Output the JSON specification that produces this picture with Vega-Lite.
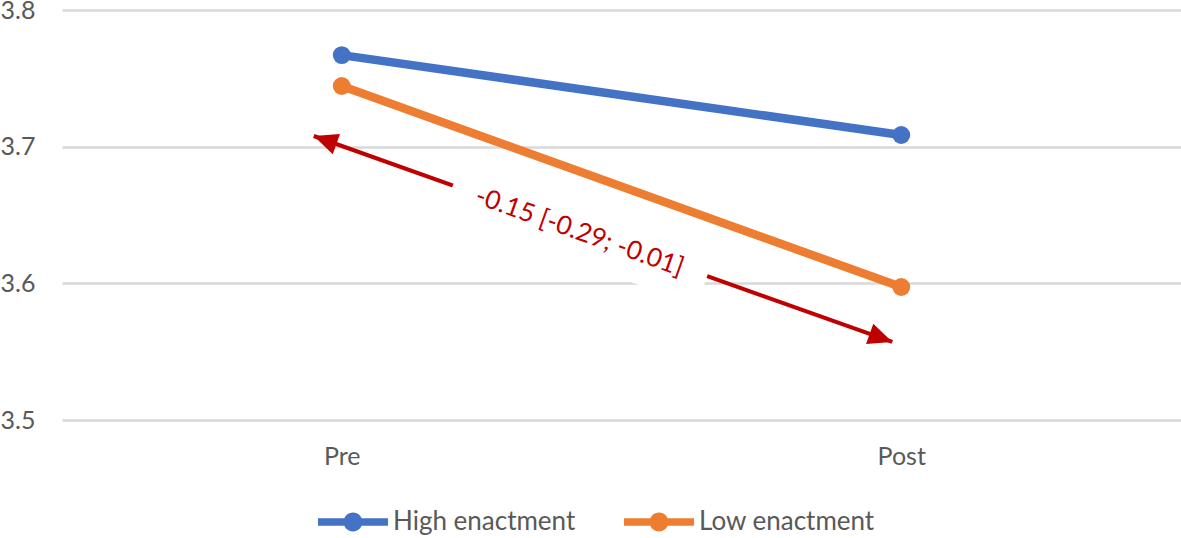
{
  "$schema": "https://vega.github.io/schema/vega-lite/v6.json",
  "autosize": {"type": "none"},
  "padding": {"left": 62, "top": 10, "right": 0, "bottom": 118},
  "width": 1119,
  "height": 410,
  "background": "white",
  "config": {
    "view": {"stroke": null},
    "font": "Lato",
    "axis": {"labelFont": "Lato", "labelColor": "#595959", "labelFontSize": 25, "domain": false, "ticks": false, "title": null},
    "legend": {"labelFont": "Lato", "labelColor": "#595959", "labelFontSize": 26, "labelLimit": 0}
  },
  "resolve": {"scale": {"x": "independent"}},
  "layer": [
    {
      "layer": [
        {
          "data": {"values": [{"x": 0.45, "y": 3.7078, "x2": 1.484, "y2": 3.5571}]},
          "mark": {"type": "rule", "color": "#C00000", "strokeWidth": 4},
          "encoding": {
            "x": {"field": "x", "type": "quantitative", "scale": {"domain": [0, 2], "nice": false, "zero": false}, "axis": null},
            "y": {"field": "y", "type": "quantitative", "scale": {"domain": [3.5, 3.8], "nice": false, "zero": false}, "axis": {"values": [3.5, 3.6, 3.7, 3.8], "format": ".1f", "labelPadding": 27, "grid": true, "gridColor": "#D9D9D9", "gridWidth": 2.5}},
            "x2": {"field": "x2"},
            "y2": {"field": "y2"}
          }
        },
        {
          "data": {"values": [{"x": 0.45, "y": 3.7078}]},
          "mark": {"type": "point", "shape": "M0,0L-2,-0.9L-2,0.9Z", "size": 576, "angle": 199.6, "filled": true, "color": "#C00000", "opacity": 1, "strokeWidth": 0},
          "encoding": {
            "x": {"field": "x", "type": "quantitative"},
            "y": {"field": "y", "type": "quantitative"}
          }
        },
        {
          "data": {"values": [{"x": 1.484, "y": 3.5571}]},
          "mark": {"type": "point", "shape": "M0,0L-2,-0.9L-2,0.9Z", "size": 576, "angle": 19.6, "filled": true, "color": "#C00000", "opacity": 1, "strokeWidth": 0},
          "encoding": {
            "x": {"field": "x", "type": "quantitative"},
            "y": {"field": "y", "type": "quantitative"}
          }
        },
        {
          "data": {"values": [{"x": 0.925, "y": 3.6376, "label": "-0.15 [-0.29; -0.01]"}]},
          "layer": [
            {
              "mark": {"type": "point", "shape": "M-1,-0.222L1,-0.222L1,0.222L-1,0.222Z", "size": 72900, "angle": 19.6, "filled": true, "color": "white", "opacity": 1, "strokeWidth": 0},
              "encoding": {
                "x": {"field": "x", "type": "quantitative"},
                "y": {"field": "y", "type": "quantitative"}
              }
            },
            {
              "mark": {"type": "text", "angle": 19.6, "fontSize": 26, "font": "Lato", "color": "#C00000", "align": "center", "baseline": "middle"},
              "encoding": {
                "x": {"field": "x", "type": "quantitative"},
                "y": {"field": "y", "type": "quantitative"},
                "text": {"field": "label"}
              }
            }
          ]
        }
      ]
    },
    {
      "data": {"values": [
        {"time": "Pre", "group": "High enactment", "value": 3.767},
        {"time": "Post", "group": "High enactment", "value": 3.7085},
        {"time": "Pre", "group": "Low enactment", "value": 3.7444},
        {"time": "Post", "group": "Low enactment", "value": 3.5973}
      ]},
      "encoding": {
        "x": {"field": "time", "type": "nominal", "scale": {"type": "point", "padding": 0.5, "domain": ["Pre", "Post"]}, "axis": {"orient": "bottom", "labelAngle": 0, "labelPadding": 24, "grid": false}},
        "y": {"field": "value", "type": "quantitative", "scale": {"domain": [3.5, 3.8], "nice": false, "zero": false}, "axis": {"values": [3.5, 3.6, 3.7, 3.8], "format": ".1f", "labelPadding": 27, "grid": true, "gridColor": "#D9D9D9", "gridWidth": 2.5}},
        "color": {
          "field": "group", "type": "nominal",
          "scale": {"domain": ["High enactment", "Low enactment"], "range": ["#4472C4", "#ED7D31"]},
          "legend": {
            "title": null, "orient": "none", "direction": "horizontal", "legendX": 256, "legendY": 477,
            "symbolType": "M-1,-0.107L1,-0.107L1,0.107L-1,0.107Z M-0.27,0 A0.27,0.27 0 1,1 0.27,0 A0.27,0.27 0 1,1 -0.27,0 Z",
            "symbolSize": 4900, "symbolStrokeWidth": 0, "labelOffset": 5, "columnPadding": 48, "labelLimit": 0,
            "encode": {"symbols": {"update": {"fill": {"scale": "color", "field": "value"}, "opacity": {"value": 1}, "strokeWidth": {"value": 0}}}}
          }
        }
      },
      "layer": [
        {"mark": {"type": "line", "strokeWidth": 8.5}},
        {"mark": {"type": "point", "filled": true, "size": 320, "opacity": 1}}
      ]
    }
  ]
}
